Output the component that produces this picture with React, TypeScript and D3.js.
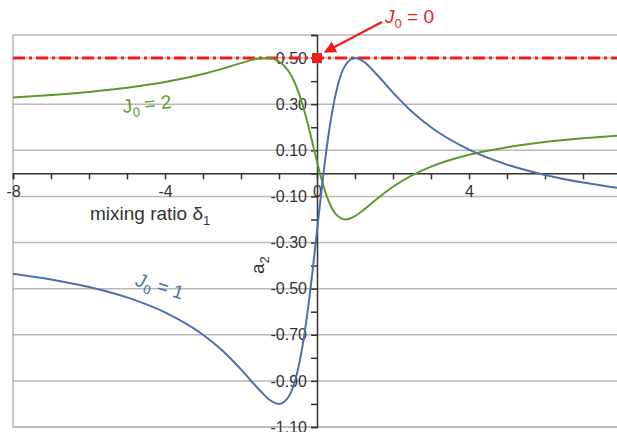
import { useRef, useEffect } from "react";
import * as d3 from "d3";

// mixing ratio samples (x) and a2 values
const delta = [-8, -7, -6, -5, -4, -3, -2.5, -2, -1.5, -1.25, -1, -0.75, -0.5, -0.375, -0.25, -0.125, 0, 0.125, 0.25, 0.375, 0.5, 0.75, 1, 1.25, 1.5, 2, 2.5, 3, 4, 5, 6, 7, 8];
const a2J1 = [-0.435, -0.46, -0.493, -0.538, -0.603, -0.7, -0.767, -0.85, -0.942, -0.982, -1.0, -0.97, -0.85, -0.743, -0.603, -0.435, -0.25, -0.065, 0.103, 0.243, 0.35, 0.47, 0.5, 0.482, 0.442, 0.35, 0.267, 0.2, 0.103, 0.038, -0.007, -0.04, -0.065];
const a2J2 = [0.329, 0.34, 0.353, 0.371, 0.396, 0.431, 0.453, 0.478, 0.498, 0.499, 0.485, 0.444, 0.358, 0.295, 0.219, 0.136, 0.05, -0.029, -0.096, -0.146, -0.178, -0.2, -0.185, -0.155, -0.121, -0.058, -0.009, 0.029, 0.081, 0.113, 0.136, 0.152, 0.164];
const a2J0 = 0.5;

const xMajorTicks = [-8, -4, 0, 4, 8];
const xMinorTicks = [-8, -7, -6, -5, -4, -3, -2, -1, 0, 1, 2, 3, 4, 5, 6, 7, 8];
const yMajorTicks = [0.5, 0.3, 0.1, -0.1, -0.3, -0.5, -0.7, -0.9, -1.1];
const yMinorTicks = [0.6, 0.4, 0.2, 0, -0.2, -0.4, -0.6, -0.8, -1.0];

const FONT = "'Liberation Sans', Arial, sans-serif";
const RED = "#ee1c1c";
const BLUE = "#4a72a8";
const GREEN = "#5a9b2c";

export default function App() {
  const svgRef = useRef<SVGSVGElement>(null);
  const width = 617;
  const height = 432;

  useEffect(() => {
    const svg = d3.select(svgRef.current);
    svg.selectAll("*").remove();

    const x = d3.scaleLinear().domain([-8, 8]).range([13, 621]);
    const y = d3.scaleLinear().domain([-1.1, 0.6]).range([427, 35]);

    // plot frame
    svg.append("rect")
      .attr("x", x(-8))
      .attr("y", y(0.6))
      .attr("width", x(8) - x(-8))
      .attr("height", y(-1.1) - y(0.6))
      .attr("fill", "none")
      .attr("stroke", "#b8b8b8")
      .attr("stroke-width", 1.5);

    // horizontal grid
    svg.append("g")
      .selectAll("line")
      .data(yMajorTicks)
      .join("line")
      .attr("x1", x(-8))
      .attr("x2", x(8))
      .attr("y1", (d) => y(d))
      .attr("y2", (d) => y(d))
      .attr("stroke", "#b8b8b8")
      .attr("stroke-width", 1.5);

    const hyphen = (s: string) => s.replace("\u2212", "-");

    // x axis at a2 = 0
    const xAxis = svg.append("g")
      .attr("transform", `translate(0,${y(0)})`)
      .call(
        d3.axisBottom(x)
          .tickValues(xMinorTicks)
          .tickSize(6)
          .tickPadding(6)
          .tickFormat((d) => (xMajorTicks.includes(+d) ? hyphen(d3.format("d")(+d)) : ""))
      );
    xAxis.select(".domain").attr("stroke", "#333").attr("stroke-width", 1.5);
    xAxis.selectAll(".tick line").attr("stroke", "#333").attr("stroke-width", 1.5);
    xAxis.selectAll(".tick text")
      .attr("fill", "#333")
      .attr("font-size", "16px")
      .attr("font-family", FONT);

    // y axis at delta = 0
    const yAxis = svg.append("g")
      .attr("transform", `translate(${x(0)},0)`)
      .call(
        d3.axisLeft(y)
          .tickValues([...yMajorTicks, ...yMinorTicks])
          .tickSize(6)
          .tickPadding(4)
          .tickFormat((d) => (yMajorTicks.includes(+d) ? hyphen(d3.format(".2f")(+d)) : ""))
      );
    yAxis.select(".domain").attr("stroke", "#333").attr("stroke-width", 1.5);
    yAxis.selectAll(".tick line").attr("stroke", "#333").attr("stroke-width", 1.5);
    yAxis.selectAll(".tick text")
      .attr("fill", "#333")
      .attr("font-size", "16px")
      .attr("font-family", FONT);

    // J0 = 0 : constant line
    svg.append("line")
      .attr("x1", x(-8))
      .attr("x2", x(8))
      .attr("y1", y(a2J0))
      .attr("y2", y(a2J0))
      .attr("stroke", RED)
      .attr("stroke-width", 3)
      .attr("stroke-dasharray", "12,4,3,4");

    const line = d3.line<number>()
      .x((_, i) => x(delta[i]))
      .y((d) => y(d))
      .curve(d3.curveMonotoneX);

    svg.append("path")
      .datum(a2J2)
      .attr("fill", "none")
      .attr("stroke", GREEN)
      .attr("stroke-width", 2)
      .attr("d", line);

    svg.append("path")
      .datum(a2J1)
      .attr("fill", "none")
      .attr("stroke", BLUE)
      .attr("stroke-width", 2)
      .attr("d", line);

    // red marker
    svg.append("rect")
      .attr("x", x(0) - 5)
      .attr("y", y(a2J0) - 5)
      .attr("width", 10)
      .attr("height", 10)
      .attr("fill", RED);

    // arrow to marker
    svg.append("defs")
      .append("marker")
      .attr("id", "arrowhead")
      .attr("viewBox", "0 0 10 10")
      .attr("refX", 9)
      .attr("refY", 5)
      .attr("markerWidth", 6)
      .attr("markerHeight", 6)
      .attr("orient", "auto")
      .append("path")
      .attr("d", "M0,0L10,5L0,10z")
      .attr("fill", RED);

    svg.append("line")
      .attr("x1", 382)
      .attr("y1", 22)
      .attr("x2", 325)
      .attr("y2", 52)
      .attr("stroke", RED)
      .attr("stroke-width", 2)
      .attr("marker-end", "url(#arrowhead)");

    // annotations
    const label = (
      tx: number,
      ty: number,
      rot: number,
      color: string,
      value: string,
      italic: boolean
    ) => {
      const t = svg.append("text")
        .attr("transform", `translate(${tx},${ty}) rotate(${rot})`)
        .attr("fill", color)
        .attr("font-size", "19px")
        .attr("font-family", FONT);
      t.append("tspan").attr("font-style", italic ? "italic" : "normal").text("J");
      t.append("tspan").attr("font-size", "13px").attr("dy", 5).text("0");
      t.append("tspan").attr("dy", -5).text(` = ${value}`);
    };

    label(385, 23, 0, RED, "0", true);
    label(x(-5.1), y(0.262), -6, GREEN, "2", false);
    label(x(-4.8), y(-0.485), 17, BLUE, "1", true);

    // axis titles
    const xTitle = svg.append("text")
      .attr("x", 90)
      .attr("y", 220)
      .attr("fill", "#333")
      .attr("font-size", "19px")
      .attr("font-family", FONT);
    xTitle.append("tspan").text("mixing ratio δ");
    xTitle.append("tspan").attr("font-size", "13px").attr("dy", 5).text("1");

    const yTitle = svg.append("text")
      .attr("transform", `translate(264,274) rotate(-90)`)
      .attr("fill", "#333")
      .attr("font-size", "19px")
      .attr("font-family", FONT);
    yTitle.append("tspan").text("a");
    yTitle.append("tspan").attr("font-size", "13px").attr("dy", 5).text("2");
  }, []);

  return (
    <svg
      ref={svgRef}
      width={width}
      height={height}
      style={{ position: "absolute", left: 0, top: 0, background: "#fff" }}
    ></svg>
  );
}
